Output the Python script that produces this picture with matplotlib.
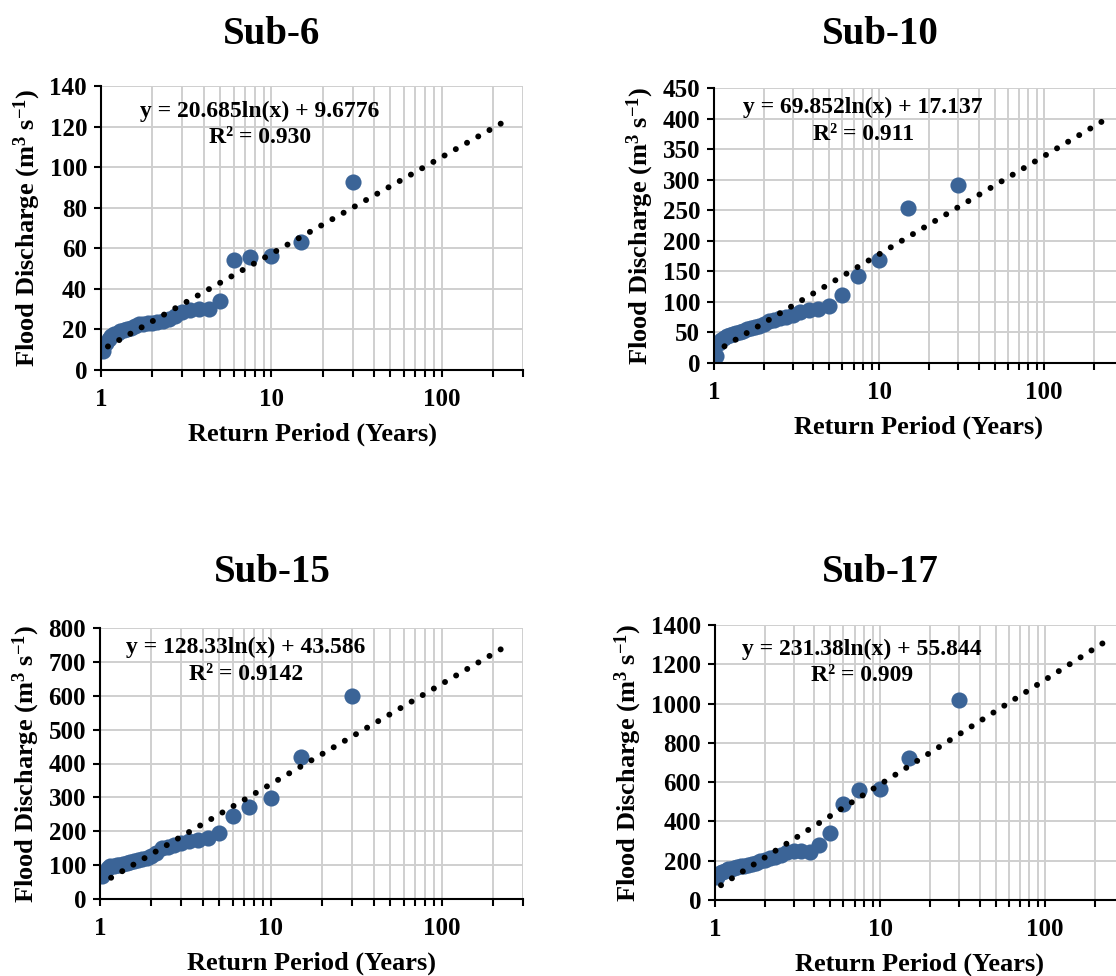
import numpy as np
import matplotlib.pyplot as plt
from matplotlib.ticker import LogLocator, FixedLocator, FixedFormatter, NullFormatter

plt.rcParams['font.family'] = ['Liberation Serif', 'DejaVu Serif']
plt.rcParams['font.weight'] = 'bold'
plt.rcParams['mathtext.fontset'] = 'custom'
plt.rcParams['mathtext.rm'] = 'Liberation Serif:bold'
plt.rcParams['mathtext.it'] = 'Liberation Serif:bold'
plt.rcParams['mathtext.bf'] = 'Liberation Serif:bold'

# return period (years), rank 1..29
return_period = [30, 15, 10, 7.5, 6, 5, 4.29, 3.75, 3.33, 3.0, 2.73, 2.5, 2.31, 2.14, 2.0,
                 1.88, 1.76, 1.67, 1.58, 1.5, 1.43, 1.36, 1.3, 1.25, 1.2, 1.15, 1.11, 1.07, 1.03]

sub6 = [92.5, 63.3, 56.2, 55.5, 54.2, 34.0, 30.0, 30.1, 29.6, 28.5, 26.5, 25.0, 24.0, 23.6, 23.3,
        23.0, 22.8, 22.5, 21.5, 20.8, 20.3, 19.8, 19.0, 18.2, 17.6, 16.8, 15.5, 13.5, 9.6]
sub10 = [292, 254, 169, 143, 111, 93, 89, 87, 84, 79, 76, 73, 71, 68, 64,
         61, 59, 57.5, 55, 53, 51, 49, 47.5, 46, 44, 41, 37, 32, 12]
sub15 = [598, 419, 299, 272, 245, 194, 180, 175, 170, 165, 160, 153, 150, 135, 128,
         122, 118, 114, 111, 108, 105, 102, 100, 99, 98, 96, 92, 80, 67]
sub17 = [1018, 721, 563, 560, 490, 342, 280, 245, 248, 250, 245, 230, 220, 212, 205,
         197, 190, 185, 180, 175, 172, 168, 163, 160, 156, 150, 145, 135, 118]

titles = ['Sub-6', 'Sub-10', 'Sub-15', 'Sub-17']
series = [sub6, sub10, sub15, sub17]
slopes = [20.685, 69.852, 128.33, 231.38]
intercepts = [9.6776, 17.137, 43.586, 55.844]
eq_labels = ['y = 20.685ln(x) + 9.6776', 'y = 69.852ln(x) + 17.137',
             'y = 128.33ln(x) + 43.586', 'y = 231.38ln(x) + 55.844']
r2_labels = ['R\u00b2 = 0.930', 'R\u00b2 = 0.911', 'R\u00b2 = 0.9142', 'R\u00b2 = 0.909']
y_max = [140, 450, 800, 1400]
y_step = [20, 50, 100, 200]
trend_end = 222

W, H = 1116, 976
fig = plt.figure(figsize=(W / 100, H / 100), dpi=100)

# axes boxes in pixels: left, top, right, bottom
boxes = [(101, 86, 523, 370), (714, 88, 1123, 363), (100, 628, 523, 899), (715, 625, 1124, 900)]
title_pos = [(272, 35), (880, 35), (272, 573), (880, 573)]
eq_pos = [(0.377, 0.912), (0.365, 0.928), (0.345, 0.928), (0.36, 0.913)]

blue = '#3b6497'
grid_c = '#cfcfcf'

for i in range(4):
    l, t, r, b = boxes[i]
    ax = fig.add_axes([l / W, 1 - b / H, (r - l) / W, (b - t) / H])
    ax.set_xscale('log')
    ax.set_xlim(1, 300)
    ax.set_ylim(0, y_max[i])

    ax.scatter(return_period, series[i], s=135, color=blue, zorder=3, linewidths=0)

    # trendline drawn from its far end so a dot sits at the end
    xt = np.geomspace(trend_end, min(return_period), 60)
    yt = slopes[i] * np.log(xt) + intercepts[i]
    ax.plot(xt, yt, color='black', lw=4.3, linestyle=(0, (0.01, 2.15)),
            dash_capstyle='round', zorder=4)

    ax.xaxis.set_major_locator(FixedLocator([1, 10, 100]))
    ax.xaxis.set_major_formatter(FixedFormatter(['1', '10', '100']))
    ax.xaxis.set_minor_locator(LogLocator(base=10, subs=np.arange(2, 10), numticks=20))
    ax.xaxis.set_minor_formatter(NullFormatter())
    ax.set_yticks(np.arange(0, y_max[i] + 1, y_step[i]))

    ax.grid(True, which='both', axis='x', color=grid_c, lw=1.4, zorder=0)
    ax.grid(True, which='major', axis='y', color=grid_c, lw=1.4, zorder=0)
    ax.set_axisbelow(True)

    for s in ['top', 'right']:
        ax.spines[s].set_visible(False)
    for s in ['left', 'bottom']:
        ax.spines[s].set_linewidth(1.5)
        ax.spines[s].set_zorder(5)

    ax.tick_params(axis='both', which='major', direction='out', length=5, width=1.5,
                   labelsize=18, pad=5)
    ax.tick_params(axis='x', which='minor', direction='out', length=5, width=1.5)
    ax.tick_params(axis='x', which='major', pad=8)
    for lab in ax.get_xticklabels() + ax.get_yticklabels():
        lab.set_fontweight('bold')

    ax.set_xlabel('Return Period (Years)', fontsize=19, fontweight='bold', labelpad=8)
    ax.set_ylabel('Flood Discharge (m$^{3}$ s$^{-1}$)', fontsize=19, fontweight='bold',
                  labelpad=5)

    ex, ey = eq_pos[i]
    ax.text(ex, ey, eq_labels[i], transform=ax.transAxes, ha='center', va='center',
            fontsize=17, fontweight='bold', zorder=6)
    ax.text(ex, ey - 27 / (b - t), r2_labels[i], transform=ax.transAxes, ha='center',
            va='center', fontsize=17, fontweight='bold', zorder=6)

    tx, ty = title_pos[i]
    fig.text(tx / W, 1 - ty / H, titles[i], ha='center', va='center', fontsize=28,
             fontweight='bold')

fig.savefig('out.png', dpi=100)
